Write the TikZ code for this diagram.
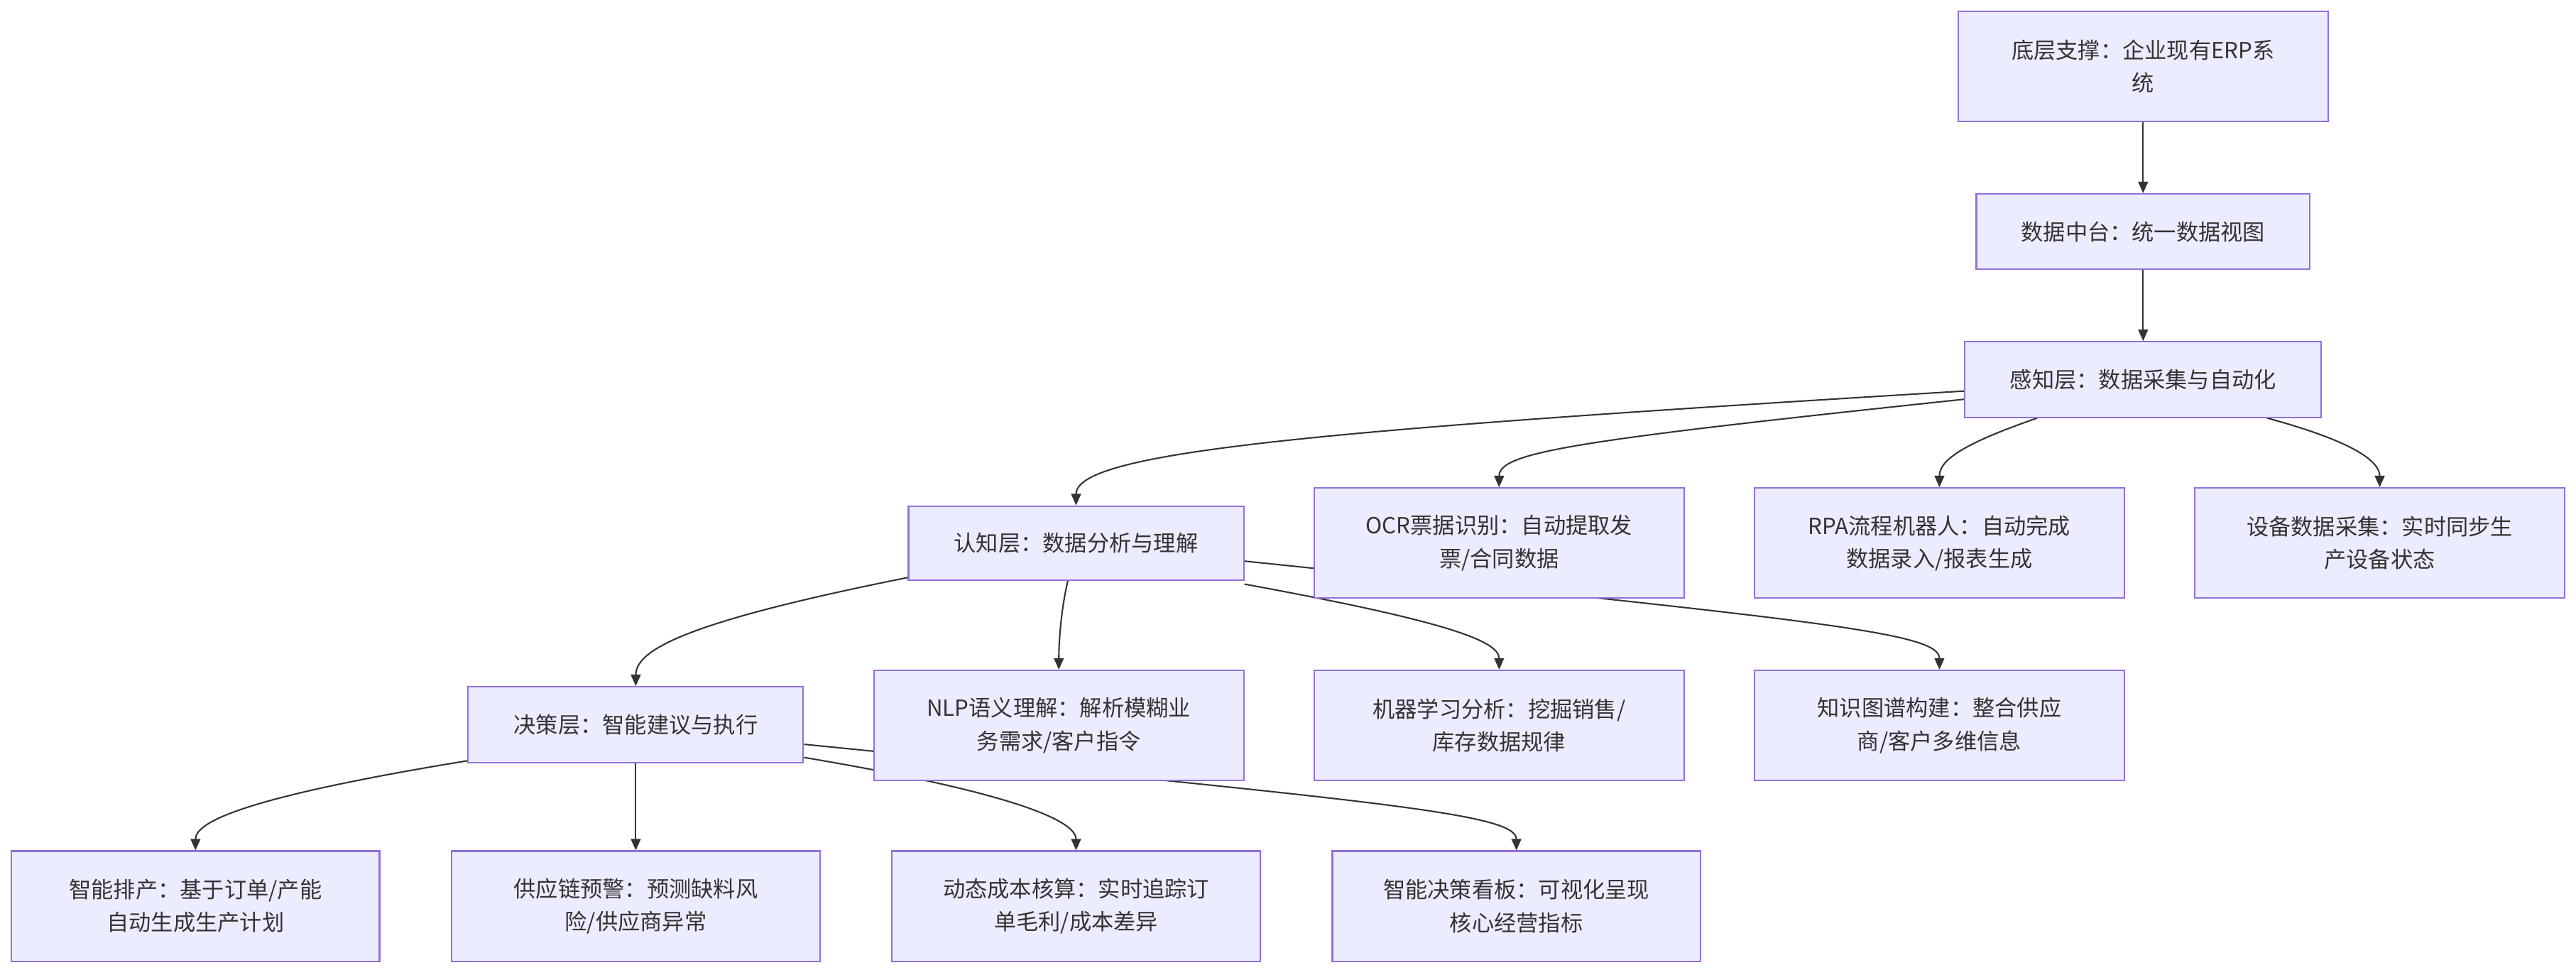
\documentclass[tikz,border=0pt]{standalone}
\usepackage{fontspec}
\setmainfont{Noto Sans CJK SC}
\usetikzlibrary{arrows.meta,backgrounds}
\definecolor{boxfill}{HTML}{ECECFF}
\definecolor{boxline}{HTML}{9370DB}
\definecolor{ink}{HTML}{333333}
\tikzset{
  box/.style={draw=boxline, fill=boxfill, line width=0.9pt, rectangle, align=center,
    text=ink, font=\fontsize{13.5}{20}\selectfont, inner sep=0pt},
  wide/.style={box, minimum width=225pt, minimum height=67pt},
  narrow/.style={box, minimum height=46pt},
  link/.style={draw=ink, line width=0.9pt, -{Triangle[length=7pt,width=6pt]}}
}
\begin{document}
\begin{tikzpicture}[x=1pt,y=-1pt]
\useasboundingbox (0,0) rectangle (1568,593);
% nodes
\node[wide] (n1) at (1304.5,40.5) {底层支撑：企业现有ERP系\\统};
\node[narrow, minimum width=203pt] (n2) at (1304.5,141) {数据中台：统一数据视图};
\node[narrow, minimum width=217pt] (n3) at (1304.5,231) {感知层：数据采集与自动化};
\node[narrow, minimum width=204pt, minimum height=45pt] (n4) at (655,330.5) {认知层：数据分析与理解};
\node[wide] (n5) at (912.5,330.5) {OCR票据识别：自动提取发\\票/合同数据};
\node[wide] (n6) at (1180.5,330.5) {RPA流程机器人：自动完成\\数据录入/报表生成};
\node[wide] (n7) at (1448.5,330.5) {设备数据采集：实时同步生\\产设备状态};
\node[narrow, minimum width=204pt] (n8) at (387,441) {决策层：智能建议与执行};
\node[wide] (n9) at (644.5,441.5) {NLP语义理解：解析模糊业\\务需求/客户指令};
\node[wide] (n10) at (912.5,441.5) {机器学习分析：挖掘销售/\\库存数据规律};
\node[wide] (n11) at (1180.5,441.5) {知识图谱构建：整合供应\\商/客户多维信息};
\node[wide, minimum width=224pt] (n12) at (119,551.5) {智能排产：基于订单/产能\\自动生成生产计划};
\node[wide, minimum width=224pt] (n13) at (387,551.5) {供应链预警：预测缺料风\\险/供应商异常};
\node[wide, minimum width=224pt] (n14) at (655,551.5) {动态成本核算：实时追踪订\\单毛利/成本差异};
\node[wide, minimum width=224pt] (n15) at (923,551.5) {智能决策看板：可视化呈现\\核心经营指标};
% anchor points on node borders
\coordinate (s3a) at ([yshift=-7pt]n3.west);
\coordinate (s3b) at ([yshift=-12pt]n3.west);
\coordinate (s3c) at ([xshift=-64.5pt]n3.south);
\coordinate (s3d) at ([xshift=75.5pt]n3.south);
\coordinate (s4a) at ([yshift=-21pt]n4.west);
\coordinate (s4b) at ([xshift=-5pt]n4.south);
\coordinate (s4c) at ([yshift=-25pt]n4.east);
\coordinate (s4d) at ([yshift=-11pt]n4.east);
\coordinate (s8a) at ([yshift=-22pt]n8.west);
\coordinate (s8c) at ([yshift=-20pt]n8.east);
\coordinate (s8d) at ([yshift=-12pt]n8.east);
\begin{scope}[on background layer]
\fill[white] (0,0) rectangle (1568,593);
\draw[link] (n1.south) -- (n2.north);
\draw[link] (n2.south) -- (n3.north);
\draw[link] (s3a) .. controls (800,262) and (655,275) .. (n4.north);
\draw[link] (s3b) .. controls (960,268) and (912.5,275) .. (n5.north);
\draw[link] (s3c) .. controls (1195,270) and (1180.5,280) .. (n6.north);
\draw[link] (s3d) .. controls (1430,268) and (1448.5,280) .. (n7.north);
\draw[link] (s4a) .. controls (420,378) and (387,395) .. (n8.north);
\draw[link] (s4b) .. controls (646,370) and (644.5,390) .. (n9.north);
\draw[link] (s4c) .. controls (880,378) and (912.5,390) .. (n10.north);
\draw[link] (s4d) .. controls (1110,378) and (1180.5,385) .. (n11.north);
\draw[link] (s8a) .. controls (150,485) and (119,500) .. (n12.north);
\draw[link] (n8.south) -- (n13.north);
\draw[link] (s8c) .. controls (620,483) and (655,500) .. (n14.north);
\draw[link] (s8d) .. controls (840,488) and (923,495) .. (n15.north);
\end{scope}
\end{tikzpicture}
\end{document}
